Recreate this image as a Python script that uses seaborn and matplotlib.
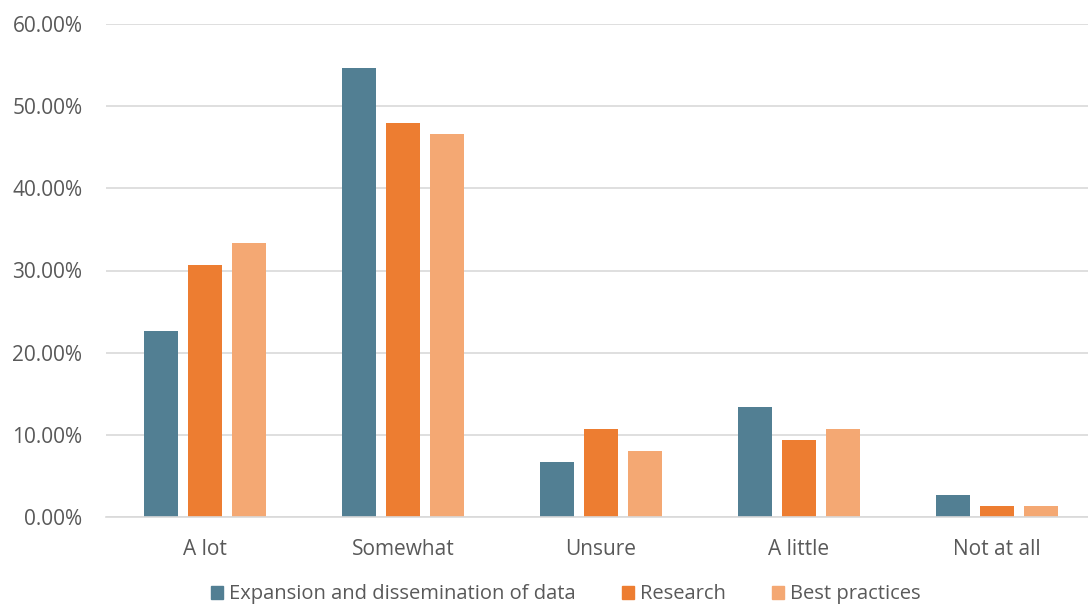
import numpy as np
import pandas as pd
import seaborn as sns
import matplotlib.pyplot as plt
from matplotlib.ticker import FuncFormatter, MultipleLocator

categories = ["A lot", "Somewhat", "Unsure", "A little", "Not at all"]
series = ["Expansion and dissemination of data", "Research", "Best practices"]
expansion = [22.67, 54.67, 6.67, 13.33, 2.67]
research = [30.67, 48.00, 10.67, 9.33, 1.33]
best_practices = [33.33, 46.67, 8.00, 10.67, 1.33]
colors = ["#527F93", "#ED7D31", "#F4A873"]

df = pd.DataFrame({
    "category": categories * 3,
    "series": [series[0]] * 5 + [series[1]] * 5 + [series[2]] * 5,
    "value": expansion + research + best_practices,
})

sns.set_theme(style="white")
plt.rcParams["font.family"] = ["Open Sans", "DejaVu Sans"]
text_color = "#595959"
fs = 15

fig = plt.figure(figsize=(10.88, 6.09), dpi=100)
ax = fig.add_axes([106 / 1088, 1 - 517 / 609, 990 / 1088, 493 / 609])

sns.barplot(data=df, x="category", y="value", hue="series", order=categories,
            hue_order=series, palette=colors, width=0.667, gap=0.23,
            saturation=1, linewidth=0, ax=ax, legend=False)

ax.set_ylim(0, 60)
ax.set_xlim(-0.5, 4.5)
ax.yaxis.set_major_locator(MultipleLocator(10))
ax.yaxis.set_major_formatter(FuncFormatter(lambda v, _: f"{v:.2f}%"))
ax.grid(axis="y", color="#D9D9D9", linewidth=1.2)
ax.set_axisbelow(True)
for s in ["top", "right", "left"]:
    ax.spines[s].set_visible(False)
ax.spines["bottom"].set_color("#D9D9D9")
ax.spines["bottom"].set_linewidth(1.2)
ax.set_xlabel("")
ax.set_ylabel("")
ax.tick_params(axis="y", length=0, pad=17, labelsize=fs, labelcolor=text_color)
ax.tick_params(axis="x", length=0, pad=16, labelsize=fs, labelcolor=text_color)

handles = [plt.Rectangle((0, 0), 1, 1, color=c) for c in colors]
fig.legend(handles, series, loc="center", bbox_to_anchor=(0.52, 0.024), ncol=3,
           frameon=False, fontsize=14.5, labelcolor=text_color, handlelength=0.6,
           handleheight=0.6, handletextpad=0.3, columnspacing=2.3,
           borderpad=0.1)

fig.savefig("out.png", dpi=100)
